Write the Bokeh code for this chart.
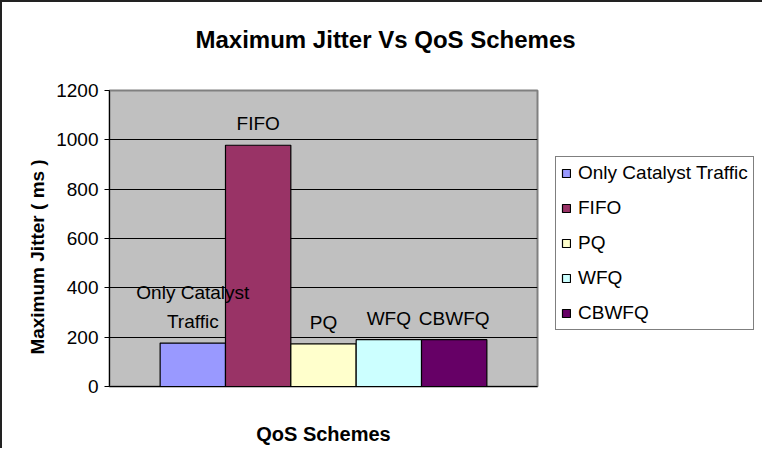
from bokeh.plotting import figure
from bokeh.models import Range1d, FixedTicker, ColumnDataSource, Legend, LegendItem, Title
from bokeh.core.properties import value
from bokeh.embed import file_html
from bokeh.resources import INLINE

series = ["Only Catalyst Traffic", "FIFO", "PQ", "WFQ", "CBWFQ"]
label_texts = ["Only Catalyst\nTraffic", "FIFO", "PQ", "WFQ", "CBWFQ"]
max_jitter = [176, 978, 173, 190, 190]
colors = ["#9999FF", "#993366", "#FFFFCC", "#CCFFFF", "#660066"]
y_ticks = [0, 200, 400, 600, 800, 1000, 1200]

FONT = "Liberation Sans"
NB = "\u00a0"

pos = list(range(len(series)))
pad = 0.775

p = figure(frame_width=428, frame_height=296, output_backend="svg", toolbar_location=None,
           x_range=Range1d(pos[0] - 0.5 - pad, pos[-1] + 0.5 + pad),
           y_range=Range1d(0, 1200),
           min_border_left=107, min_border_right=0,
           min_border_top=88, min_border_bottom=62)

p.styles = {"border-left": "2px solid #222", "border-top": "2px solid #222"}

p.title.text = "Maximum Jitter Vs QoS Schemes"
p.title.align = "left"
p.title.vertical_align = "top"
p.title.offset = 86
p.title.standoff = 43
p.title.text_font = FONT
p.title.text_font_size = "24px"
p.title.text_font_style = "bold"
p.title.text_color = "black"

# empty spacer panel between the title and the plot area
spacer = Title(text=NB, text_font_size="10px", standoff=1, text_color="white")
p.add_layout(spacer, "above")

p.background_fill_color = "#C0C0C0"
p.border_fill_color = "white"
p.outline_line_color = "#808080"
p.outline_line_width = 2

src = ColumnDataSource(dict(x=pos, name=series, top=max_jitter, color=colors, lab=label_texts))
r = p.vbar(x="x", top="top", width=1.0, bottom=0, source=src,
           fill_color="color", line_color="black", line_width=1.2)

p.text(x="x", y="top", text="lab", source=src, text_align="center",
       text_baseline="bottom", y_offset=-11, text_font=value(FONT),
       text_font_size="19px", text_color="black", text_line_height=1.4)

# axes
p.xaxis.ticker = FixedTicker(ticks=[])
p.xaxis.axis_label = "QoS Schemes"
p.xaxis.axis_label_text_font = FONT
p.xaxis.axis_label_text_font_size = "20px"
p.xaxis.axis_label_text_font_style = "bold"
p.xaxis.axis_label_text_color = "black"
p.xaxis.axis_label_standoff = 36
p.xaxis.major_tick_line_color = None
p.xaxis.minor_tick_line_color = None
p.xaxis.axis_line_color = "black"

p.yaxis.axis_label = "Maximum Jitter ( ms )" + NB * 7
p.yaxis.axis_label_text_font = FONT
p.yaxis.axis_label_text_font_size = "19px"
p.yaxis.axis_label_text_font_style = "bold"
p.yaxis.axis_label_text_color = "black"
p.yaxis.axis_label_standoff = 5
p.yaxis.ticker = FixedTicker(ticks=y_ticks)
p.yaxis.major_label_text_font = FONT
p.yaxis.major_label_text_font_size = "19px"
p.yaxis.major_label_text_color = "black"
p.yaxis.major_label_standoff = 6
p.yaxis.major_tick_out = 5
p.yaxis.major_tick_in = 0
p.yaxis.major_tick_line_color = "black"
p.yaxis.minor_tick_line_color = None
p.yaxis.axis_line_color = "black"

p.xgrid.grid_line_color = None
p.ygrid.grid_line_color = "black"
p.ygrid.grid_line_width = 1

items = [LegendItem(label=s, renderers=[r], index=i) for i, s in enumerate(series)]
legend = Legend(items=items, location=(18, 56), orientation="vertical",
                label_text_font=FONT, label_text_font_size="19px", label_text_color="black",
                glyph_width=10, glyph_height=10, label_height=22, spacing=13,
                padding=5, margin=0, label_standoff=7,
                border_line_color="black", border_line_width=1,
                background_fill_color="white", background_fill_alpha=1.0)
p.add_layout(legend, "right")

open("out.html", "w").write(file_html(p, INLINE))
